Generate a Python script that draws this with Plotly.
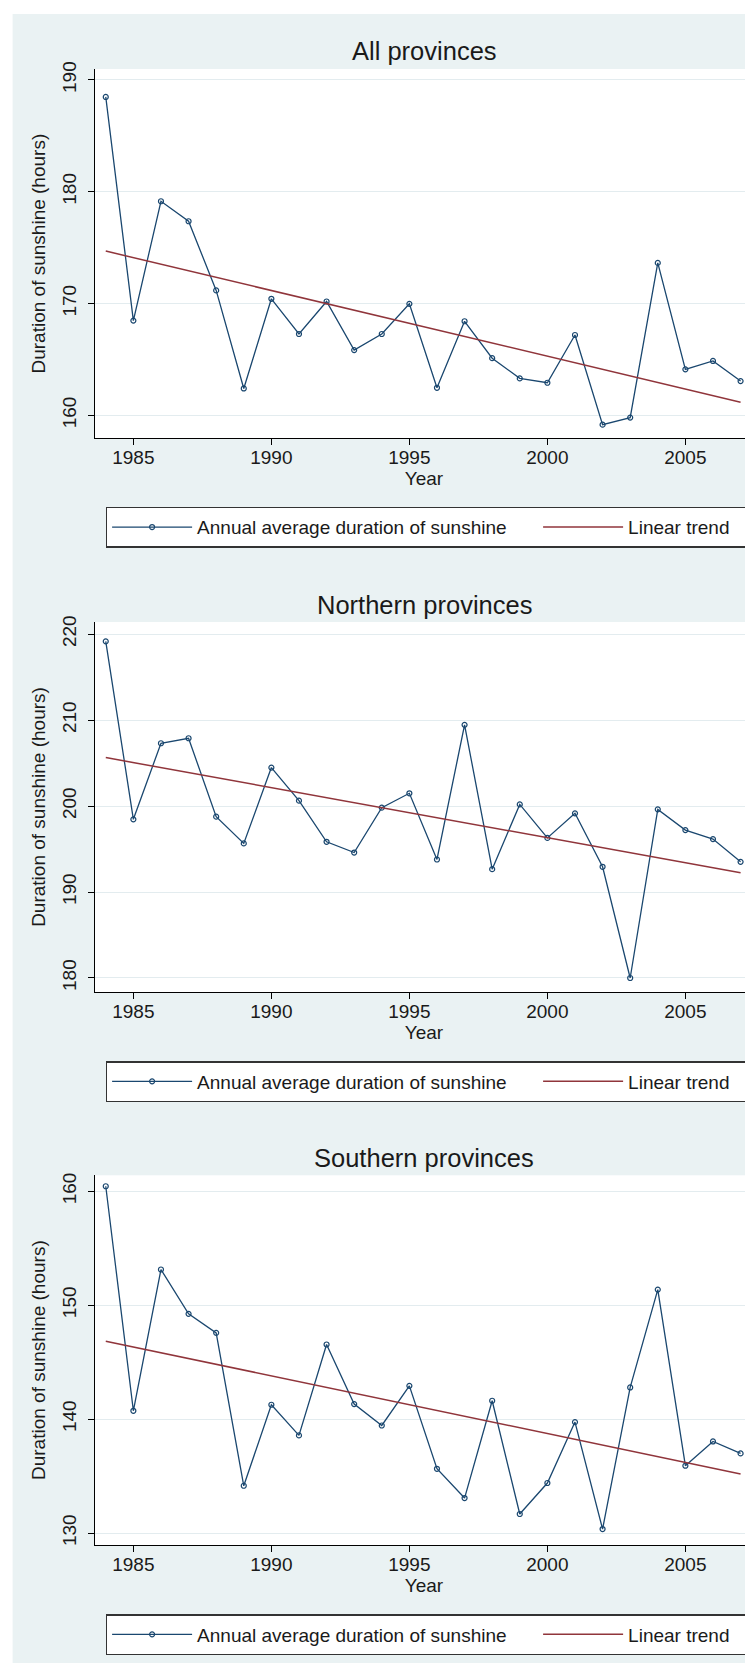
import plotly.graph_objects as go

# ---------------- data ----------------
years = list(range(1984, 2008))

all_provinces = [188.48, 168.47, 179.15, 177.36, 171.17, 162.40, 170.42, 167.27,
                 170.18, 165.83, 167.27, 169.97, 162.46, 168.41, 165.11, 163.30,
                 162.91, 167.18, 159.16, 159.79, 173.63, 164.11, 164.86, 163.06]

northern_provinces = [219.15, 198.45, 207.30, 207.88, 198.76, 195.65, 204.47, 200.62,
                      195.84, 194.59, 199.81, 201.48, 193.78, 209.44, 192.66, 200.19,
                      196.29, 199.15, 192.93, 180.00, 199.61, 197.20, 196.15, 193.51]

southern_provinces = [160.44, 140.73, 153.13, 149.24, 147.57, 134.15, 141.26, 138.57,
                      146.55, 141.32, 139.44, 142.92, 135.64, 133.07, 141.61, 131.67,
                      134.39, 139.74, 130.35, 142.78, 151.37, 135.91, 138.04, 136.99]

trend_years = [1984, 2007]
trend_all = [174.69, 161.17]
trend_north = [205.63, 192.24]
trend_south = [146.84, 135.18]

panel_titles = ["All provinces", "Northern provinces", "Southern provinces"]
y_ticks = [[160, 170, 180, 190], [180, 190, 200, 210, 220], [130, 140, 150, 160]]
x_ticks = [1985, 1990, 1995, 2000, 2005]
series_name = "Annual average duration of sunshine"
trend_name = "Linear trend"
x_title = "Year"
y_title = "Duration of sunshine (hours)"

# ---------------- layout geometry (pixels) ----------------
W, H = 753, 1663
ML, MR, MT, MB = 87.4, 7.5, 61.0, 126.0
PW = W - ML - MR
PH = H - MT - MB
BOTTOM = H - MB

def py(ypix):
    return (BOTTOM - ypix) / PH

def px(xpix):
    return (xpix - ML) / PW

panels_px = [(61.0, 430.3), (614.0, 984.0), (1167.3, 1537.0)]
y_ranges = [[157.94, 190.98], [178.37, 221.4], [128.95, 161.40]]
x_range = [1983.61, 2007.45]
title_y_px = [43.0, 596.7, 1150.0]
legend_top_px = [498.7, 1053.0, 1606.0]

NAVY = "#1a476f"
MAROON = "#90353b"
BG = "#eaf2f3"
GRID = "#e3ecef"
TXT = "#1a1a1a"
FONT = "Liberation Sans, Arial, sans-serif"

series = [all_provinces, northern_provinces, southern_provinces]
trends = [trend_all, trend_north, trend_south]

fig = go.Figure()
legend_ids = ["legend", "legend2", "legend3"]

for i in range(3):
    xa = "x" if i == 0 else f"x{i+1}"
    ya = "y" if i == 0 else f"y{i+1}"
    fig.add_trace(go.Scatter(
        x=years, y=series[i], xaxis=xa, yaxis=ya,
        mode="lines+markers", name=series_name,
        line=dict(color=NAVY, width=1.3),
        marker=dict(symbol="circle-open", size=5, color=NAVY, line=dict(width=1.2, color=NAVY)),
        legend=legend_ids[i], legendwidth=336,
    ))
    fig.add_trace(go.Scatter(
        x=trend_years, y=trends[i], xaxis=xa, yaxis=ya,
        mode="lines", name=trend_name,
        line=dict(color=MAROON, width=1.5),
        legend=legend_ids[i], legendwidth=112,
    ))

layout = dict(
    width=W, height=H,
    margin=dict(l=ML, r=MR, t=MT, b=MB, pad=0),
    paper_bgcolor=BG, plot_bgcolor="white",
    font=dict(family=FONT, size=19, color=TXT),
    showlegend=True,
)

for i in range(3):
    sfx = "" if i == 0 else str(i + 1)
    top, bot = panels_px[i]
    layout["xaxis" + sfx] = dict(
        domain=[0, 1], range=x_range, anchor="y" + sfx,
        tickmode="array", tickvals=x_ticks,
        ticks="outside", ticklen=6, tickwidth=1.3, tickcolor="#000",
        showline=True, linecolor="#000", linewidth=1.3, mirror=False,
        showgrid=False, zeroline=False, ticklabelstandoff=-4,
        tickfont=dict(size=19, color=TXT),
        title=dict(text=x_title, font=dict(size=19, color=TXT), standoff=4),
    )
    layout["yaxis" + sfx] = dict(
        domain=[py(bot), py(top)], range=y_ranges[i], anchor="x" + sfx,
        tickmode="array", tickvals=y_ticks[i], tickangle=-90,
        ticks="outside", ticklen=6, tickwidth=1.3, tickcolor="#000",
        showline=True, linecolor="#000", linewidth=1.3, ticklabelstandoff=4,
        showgrid=True, gridcolor=GRID, gridwidth=1.2, zeroline=False,
        tickfont=dict(size=19, color=TXT),
        title=dict(text=y_title, font=dict(size=19, color=TXT), standoff=8),
    )
    layout[legend_ids[i]] = dict(
        x=px(98), xanchor="left", y=py(legend_top_px[i]), yanchor="top",
        orientation="h", bgcolor="white", bordercolor="#333", borderwidth=1.5,
        font=dict(size=19, color=TXT), itemwidth=80, tracegroupgap=0,
    )

annotations = []
for i in range(3):
    annotations.append(dict(
        text=panel_titles[i], xref="paper", yref="paper",
        x=0.5, y=py(title_y_px[i]), xanchor="center", yanchor="middle",
        showarrow=False, font=dict(size=25.5, color=TXT),
    ))
layout["annotations"] = annotations

layout["shapes"] = [
    dict(type="rect", xref="paper", yref="paper", layer="below",
         x0=px(0), x1=px(5), y0=py(H), y1=py(0), fillcolor="white", line=dict(width=0)),
    dict(type="rect", xref="paper", yref="paper", layer="below",
         x0=px(0), x1=px(W), y0=py(6), y1=py(0), fillcolor="white", line=dict(width=0)),
]

fig.update_layout(**layout)
fig.write_html("out.html")
